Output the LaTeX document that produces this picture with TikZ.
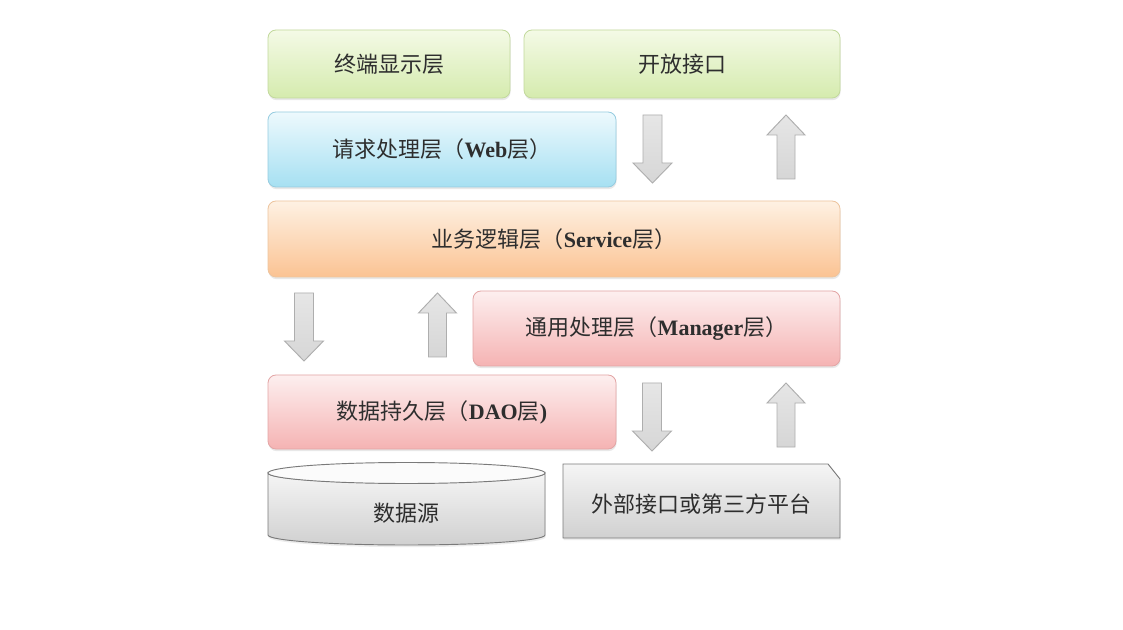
\documentclass[tikz,border=0pt]{standalone}
\usepackage{fontspec}
\setmainfont{Liberation Serif}
\newfontfamily\cjk{Noto Sans CJK SC}
\usetikzlibrary{shadows}
\newcommand\pxu{0.75pt}
\newcommand\zh[1]{{\cjk #1}}
\definecolor{txt}{HTML}{2E2E2E}
\definecolor{gtop}{HTML}{F4FAE6}\definecolor{gbot}{HTML}{D5EBAE}\definecolor{gline}{HTML}{C2D99C}
\definecolor{btop}{HTML}{EDF9FD}\definecolor{bbot}{HTML}{A6E0F2}\definecolor{bline}{HTML}{96CCE0}
\definecolor{otop}{HTML}{FEF1E3}\definecolor{obot}{HTML}{FBC393}\definecolor{oline}{HTML}{EDC49E}
\definecolor{ptop}{HTML}{FDEFEF}\definecolor{pbot}{HTML}{F5B3B3}\definecolor{pline}{HTML}{E3A5A5}
\definecolor{ytop}{HTML}{F5F5F5}\definecolor{ybot}{HTML}{D0D0D0}\definecolor{yline}{HTML}{7A7A7A}
\definecolor{atop}{HTML}{E6E6E6}\definecolor{abot}{HTML}{D6D6D6}\definecolor{aline}{HTML}{AEAEAE}
\tikzset{
  layer/.style={rounded corners=6pt, line width=0.6pt, text=txt,
    font=\fontsize{16.5}{19}\selectfont,
    drop shadow={opacity=0.18, shadow xshift=0.4pt, shadow yshift=-1.6pt}},
  greenbox/.style={layer, draw=gline, top color=gtop, bottom color=gbot},
  bluebox/.style={layer, draw=bline, top color=btop, bottom color=bbot},
  orangebox/.style={layer, draw=oline, top color=otop, bottom color=obot},
  pinkbox/.style={layer, draw=pline, top color=ptop, bottom color=pbot},
  graybody/.style={draw=yline, line width=0.7pt, top color=ytop, bottom color=ybot,
    drop shadow={opacity=0.15, shadow xshift=0.4pt, shadow yshift=-1.6pt}},
  label/.style={text=txt, font=\fontsize{16.5}{19}\selectfont},
  blockarrow/.style={draw=aline, line width=0.7pt, top color=atop, bottom color=abot, line join=miter},
  pics/downarr/.style={code={
    \path[blockarrow] (-9.5,0) -- (9.5,0) -- (9.5,48) -- (19.5,48) -- (0,68)
      -- (-19.5,48) -- (-9.5,48) -- cycle;}},
  pics/uparr/.style={code={
    \path[blockarrow] (0,0) -- (19,20) -- (9,20) -- (9,64) -- (-9,64) -- (-9,20)
      -- (-19,20) -- cycle;}},
}
\begin{document}
\begin{tikzpicture}[x=0.75pt,y=-0.75pt]
\useasboundingbox[fill=white] (0,0) rectangle (1123,630);

% layers
\node[greenbox, minimum width=242*\pxu, minimum height=68*\pxu] (term) at (389,64) {\zh{终端显示层}};
\node[greenbox, minimum width=316*\pxu, minimum height=68*\pxu] (open) at (682,64) {\zh{开放接口}};
\node[bluebox, minimum width=348*\pxu, minimum height=75*\pxu] (web) at (442,149.5) {\zh{请求处理层（}\textbf{Web}\zh{层）}};
\node[orangebox, minimum width=572*\pxu, minimum height=76*\pxu] (service) at (554,239) {\zh{业务逻辑层（}\textbf{Service}\zh{层）}};
\node[pinkbox, minimum width=367*\pxu, minimum height=75*\pxu] (manager) at (656.5,328.5) {\zh{通用处理层（}\textbf{Manager}\zh{层）}};
\node[pinkbox, minimum width=348*\pxu, minimum height=74*\pxu] (dao) at (442,412) {\zh{数据持久层（}\textbf{DAO}\zh{层}\textbf{)}};

% data source cylinder
\path[graybody]
  (268,473) -- (268,535) arc[start angle=180, end angle=0, x radius=138.5, y radius=10]
  -- (545,473) arc[start angle=0, end angle=180, x radius=138.5, y radius=10] -- cycle;
\path[draw=yline, line width=0.7pt, fill=white!97!gray]
  (406.5,473) ellipse[x radius=138.5, y radius=10.5];
\node[label] (ds) at (406.5,513) {\zh{数据源}};

% external interface (snipped corner box)
\path[graybody] (563,464) -- (828,464) -- (840,479) -- (840,538) -- (563,538) -- cycle;
\node[label] (ext) at (701.5,504) {\zh{外部接口或第三方平台}};

% block arrows
\pic (d1) at (652.5,115) {downarr};
\pic (u1) at (786,115) {uparr};
\pic (d2) at (304,293) {downarr};
\pic (u2) at (437.5,293) {uparr};
\pic (d3) at (652,383) {downarr};
\pic (u3) at (786,383) {uparr};
\end{tikzpicture}
\end{document}
